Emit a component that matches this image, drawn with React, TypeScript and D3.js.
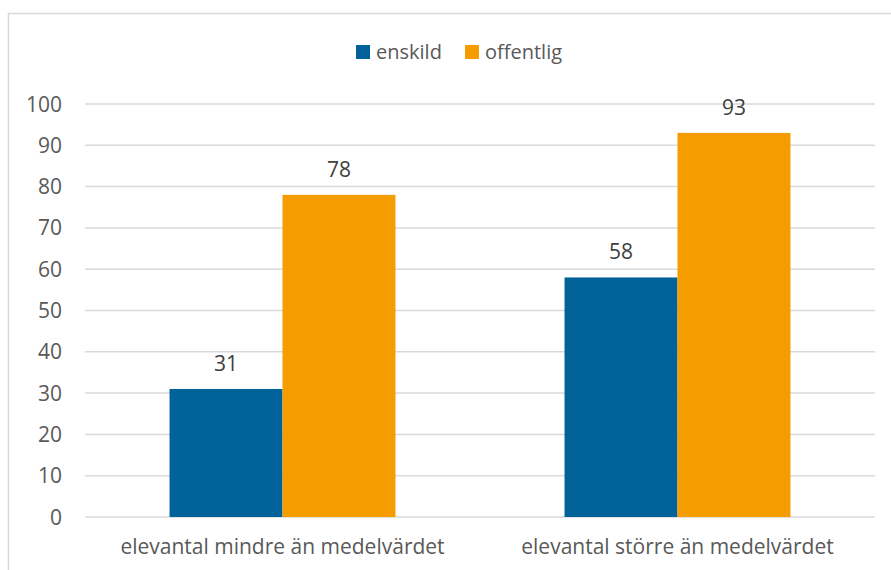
import * as d3 from 'd3';
import React from 'react';

const categories = ['elevantal mindre än medelvärdet', 'elevantal större än medelvärdet'];
const seriesNames = ['enskild', 'offentlig'];
const enskild = [31, 58];
const offentlig = [78, 93];
const yTicks = [0, 10, 20, 30, 40, 50, 60, 70, 80, 90, 100];

const colors = ['#006298', '#F49C00'];
const font = "'Open Sans', sans-serif";
const textColor = '#595959';

export default function App() {
  const width = 891;
  const height = 570;
  const margin = { top: 104, right: 16, bottom: 53, left: 85 };

  const x0 = d3
    .scaleBand<string>()
    .domain(categories)
    .range([margin.left, width - margin.right])
    .paddingInner(0.428)
    .paddingOuter(0.214);

  const x1 = d3.scaleBand<string>().domain(seriesNames).range([0, x0.bandwidth()]);

  const y = d3
    .scaleLinear()
    .domain([0, 100])
    .range([height - margin.bottom, margin.top]);

  const values = [enskild, offentlig];

  return (
    <svg width={width} height={height} style={{ position: 'absolute', left: 0, top: 0, background: '#fff' }}>
      {/* chart frame, right and bottom edges are outside the picture */}
      <rect x={8.5} y={13.5} width={900} height={600} fill="#fff" stroke="#d9d9d9" strokeWidth={1.5} />

      {yTicks.map((t) => (
        <g key={t}>
          <line
            x1={margin.left}
            x2={width - margin.right}
            y1={y(t)}
            y2={y(t)}
            stroke="#d9d9d9"
            strokeWidth={1.5}
          />
          <text
            x={62}
            y={y(t)}
            dy="0.36em"
            textAnchor="end"
            fontFamily={font}
            fontSize={21}
            fill={textColor}
          >
            {t}
          </text>
        </g>
      ))}

      {categories.map((c, ci) => (
        <g key={c}>
          {seriesNames.map((s, si) => {
            const v = values[si][ci];
            const bx = (x0(c) ?? 0) + (x1(s) ?? 0);
            return (
              <g key={s}>
                <rect x={bx} y={y(v)} width={x1.bandwidth()} height={y(0) - y(v)} fill={colors[si]} />
                <text
                  x={bx + x1.bandwidth() / 2}
                  y={y(v) - 18}
                  textAnchor="middle"
                  fontFamily={font}
                  fontSize={21}
                  fill="#404040"
                >
                  {v}
                </text>
              </g>
            );
          })}
          <text
            x={(x0(c) ?? 0) + x0.bandwidth() / 2}
            y={554}
            textAnchor="middle"
            fontFamily={font}
            fontSize={21}
            fill={textColor}
          >
            {c}
          </text>
        </g>
      ))}

      {seriesNames.map((s, i) => {
        const lx = i === 0 ? 356 : 465;
        return (
          <g key={s}>
            <rect x={lx} y={45} width={14} height={14} fill={colors[i]} />
            <text x={lx + 20} y={59} fontFamily={font} fontSize={20} fill={textColor}>
              {s}
            </text>
          </g>
        );
      })}
    </svg>
  );
}
